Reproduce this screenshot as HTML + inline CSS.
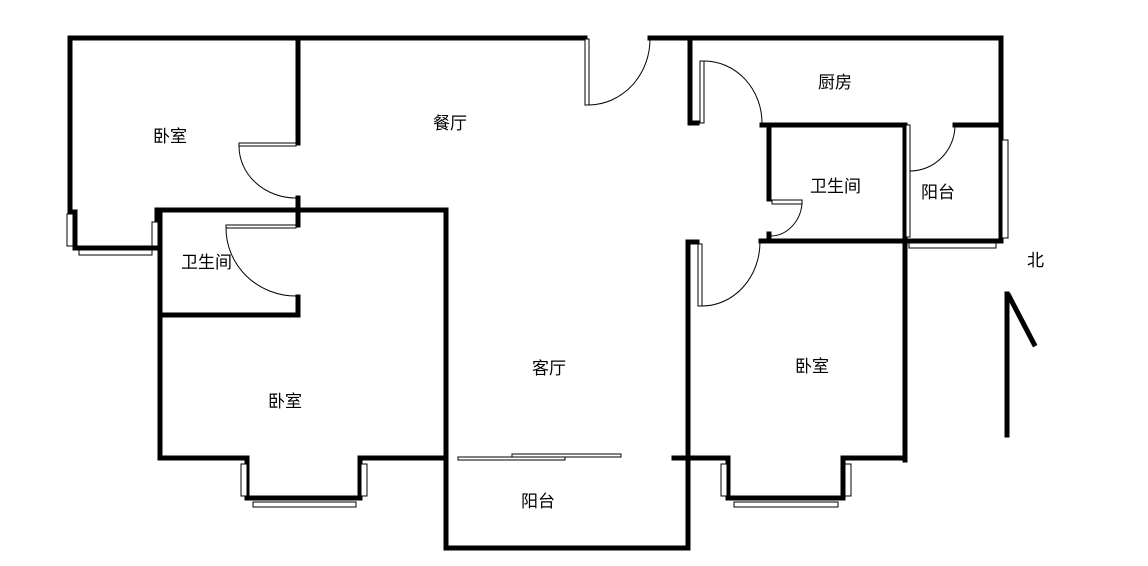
<!DOCTYPE html>
<html><head><meta charset="utf-8"><style>
html,body{margin:0;padding:0;background:#fff;}
svg{display:block;}
text{font-family:"Liberation Sans","Noto Sans CJK SC",sans-serif;font-size:17px;fill:#000;}
</style></head><body>
<svg width="1148" height="566" viewBox="0 0 1148 566" xmlns="http://www.w3.org/2000/svg">
<g stroke="#000" stroke-width="5" fill="none" stroke-linecap="square">
<!-- top wall -->
<line x1="70" y1="38" x2="585" y2="38"/>
<line x1="650" y1="38" x2="1001" y2="38"/>
<line x1="1001" y1="38" x2="1001" y2="125"/>
<!-- left bedroom -->
<line x1="70" y1="38" x2="70" y2="212"/>
<polyline points="70,212 75,212 75,248 157,248 157,212"/>
<line x1="298" y1="38" x2="298" y2="143"/>
<line x1="298" y1="198" x2="298" y2="225"/>
<line x1="157" y1="210" x2="446" y2="210"/>
<!-- bathroom left -->
<line x1="160" y1="210" x2="160" y2="458"/>
<line x1="160" y1="315" x2="298" y2="315"/>
<line x1="298" y1="297" x2="298" y2="315"/>
<!-- bedroom2 -->
<line x1="446" y1="210" x2="446" y2="548"/>
<polyline points="160,458 247,458 247,498 360,498 360,458 446,458"/>
<!-- balcony -->
<line x1="446" y1="548" x2="688" y2="548"/>
<line x1="688" y1="242" x2="688" y2="548"/>
<line x1="688" y1="242" x2="697" y2="242"/>
<!-- kitchen -->
<line x1="690" y1="38" x2="690" y2="123"/>
<line x1="690" y1="123" x2="697" y2="123"/>
<line x1="762" y1="125" x2="905" y2="125"/>
<line x1="955" y1="125" x2="1001" y2="125"/>
<!-- bathroom right -->
<line x1="769" y1="125" x2="769" y2="199"/>
<line x1="769" y1="234" x2="769" y2="241"/>
<line x1="761" y1="241" x2="905" y2="241"/>
<line x1="905" y1="125" x2="905" y2="460"/>
<line x1="905" y1="241" x2="1001" y2="241"/>
<line x1="1001" y1="125" x2="1001" y2="241"/>
<!-- bedroom3 -->
<polyline points="674,458 728,458 728,498 843,498 843,458 905,458"/>
<!-- north arrow -->
<line x1="1007" y1="294" x2="1007" y2="435"/>
<line x1="1009" y1="296" x2="1034" y2="344"/>
</g>
<g stroke="#000" stroke-width="1" fill="#fff">
<!-- door leaves -->
<rect x="585" y="39" width="4" height="66"/>
<rect x="700" y="61" width="4" height="62"/>
<rect x="239" y="143" width="57" height="3"/>
<rect x="226" y="225" width="70" height="3"/>
<rect x="772" y="200" width="30" height="4"/>
<rect x="698" y="244" width="4" height="62"/>
<rect x="906" y="125" width="4" height="112"/>
<rect x="458" y="457" width="107" height="3"/>
<rect x="512" y="454" width="109" height="3"/>
<!-- windows -->
<rect x="67" y="214" width="6" height="32"/>
<rect x="152" y="222" width="6" height="24"/>
<rect x="79" y="250" width="73" height="5"/>
<rect x="241" y="464" width="6" height="32"/>
<rect x="361" y="464" width="6" height="32"/>
<rect x="253" y="502" width="103" height="5"/>
<rect x="721" y="464" width="6" height="32"/>
<rect x="845" y="464" width="6" height="32"/>
<rect x="734" y="502" width="104" height="5"/>
<rect x="1002" y="140" width="6" height="98"/>
<rect x="909" y="243" width="87" height="5"/>
</g>
<g stroke="#000" stroke-width="1" fill="none">
<path d="M589,105 A62,66 0 0 0 650,38"/>
<path d="M704,61 A58,62 0 0 1 762,123"/>
<path d="M239,146 A57,52 0 0 0 296,198"/>
<path d="M226,228 A70,68 0 0 0 296,296"/>
<path d="M802,204 A32,36 0 0 1 771,236"/>
<path d="M702,306 A58,64 0 0 0 760,242"/>
<path d="M910,171 A45,46 0 0 0 955,125"/>
</g>
<text x="153" y="142">卧室</text>
<text x="433" y="129">餐厅</text>
<text x="818" y="88">厨房</text>
<text x="810" y="192">卫生间</text>
<text x="921" y="198">阳台</text>
<text x="181" y="268">卫生间</text>
<text x="268" y="407">卧室</text>
<text x="532" y="374">客厅</text>
<text x="795" y="372">卧室</text>
<text x="521" y="507">阳台</text>
<text x="1027" y="266">北</text>
</svg>
</body></html>
